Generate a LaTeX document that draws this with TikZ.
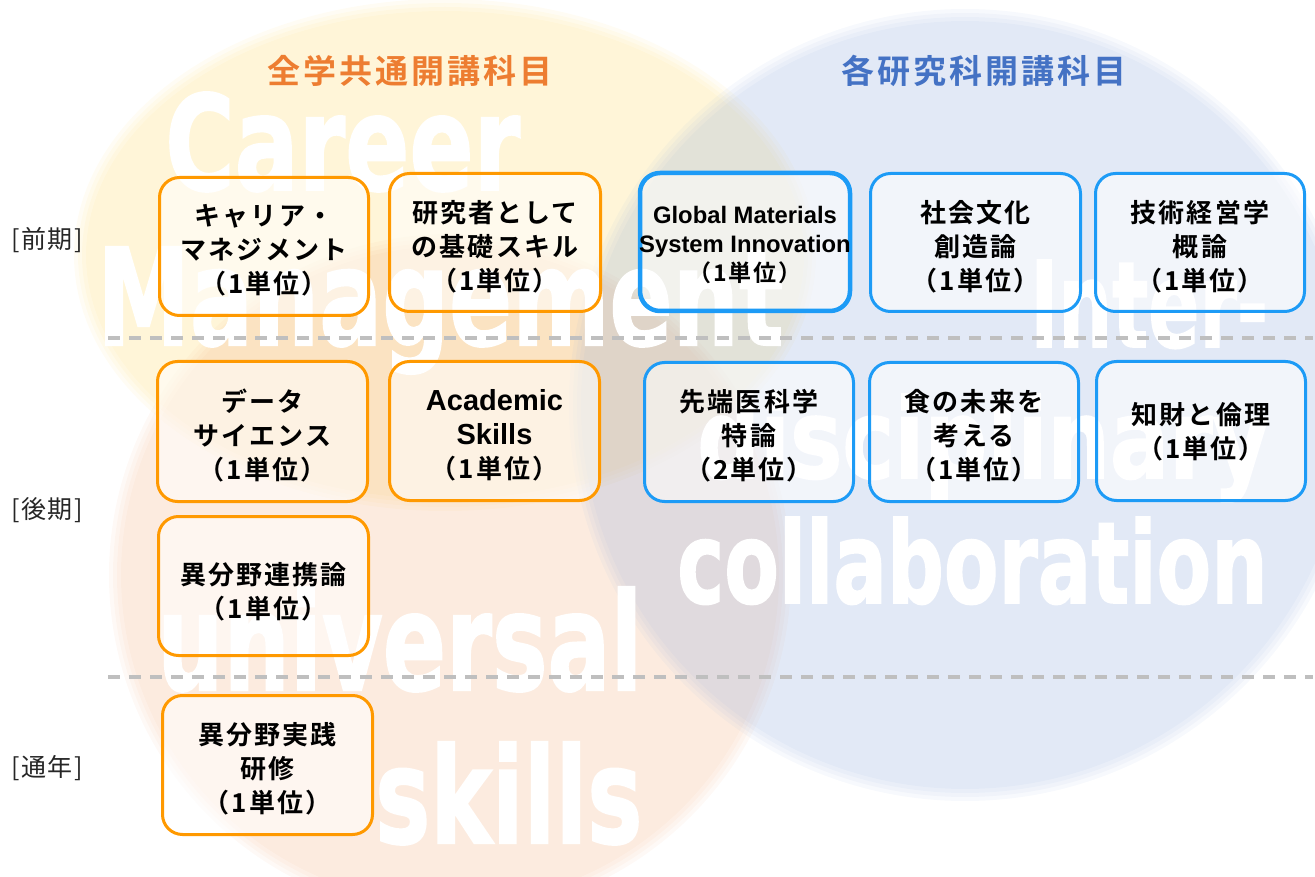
\documentclass[tikz,border=0pt]{standalone}
\usepackage{fontspec}
\usepackage{graphicx}
\newfontfamily\cjkb{Noto Sans CJK JP}[UprightFont=* Bold, LetterSpace=8]
\newfontfamily\cjkt{Noto Sans CJK JP}[UprightFont=* Bold, LetterSpace=9]
\newfontfamily\cjkr{Noto Sans CJK JP}[LetterSpace=6]
\newfontfamily\latb{Liberation Sans}[UprightFont=* Bold]
\newfontfamily\bigf{DejaVu Sans}[UprightFont=* Bold, FakeBold=1.5]
\definecolor{cyel}{HTML}{FFD966}
\definecolor{cora}{HTML}{F4B183}
\definecolor{cblu}{HTML}{8FAADC}
\definecolor{obord}{HTML}{FF9900}
\definecolor{bbord}{HTML}{1D9BF6}
\definecolor{dashc}{HTML}{BFBFBF}
\definecolor{tor}{HTML}{ED7D31}
\definecolor{tbl}{HTML}{4472C4}
\tikzset{
  boxbase/.style={rounded corners=20pt, fill=white, fill opacity=0.55, inner sep=0pt},
  obox/.style={boxbase, draw=obord, line width=3pt},
  bbox/.style={boxbase, draw=bbord, line width=3pt},
  btext/.style={align=center, inner sep=0pt, font=\cjkb\fontsize{26}{34}\selectfont},
  bigw/.style={anchor=base west, inner sep=0pt, text=white},
  sep/.style={draw=dashc, line width=3.5pt, dash pattern=on 12pt off 9pt},
  lab/.style={font=\cjkr\fontsize{25}{25}\selectfont, text=black!85},
}
\begin{document}
\begin{tikzpicture}[x=1pt, y=-1pt]
\useasboundingbox (0,0) rectangle (1315,877);
\begin{scope}
\clip (0,0) rectangle (1315,877);
\foreach \d in {-6,-2,2,6} {
  \fill[cyel, opacity=0.072] (445,255) ellipse [x radius={365+\d}, y radius={250+\d}];
}
\foreach \d in {-6,-2,2,6} {
  \fill[cora, opacity=0.072] (450,575) circle [radius={335+\d}];
}
\foreach \d in {-6,-2,2,6} {
  \fill[cblu, opacity=0.072] (965,405) circle [radius={390+\d}];
}
\end{scope}

% big background words
\node[bigw] (wCareer) at (165,190) {\resizebox{355pt}{98pt}{\bigf Career}};
\node[bigw] (wManag) at (97,345) {\resizebox{686pt}{98pt}{\bigf Management}};
\node[bigw] (wInter) at (1030,347) {\resizebox{238pt}{87pt}{\bigf Inter-}};
\node[bigw] (wDisc) at (697,478) {\resizebox{572pt}{84pt}{\bigf disciplinary}};
\node[bigw] (wColl) at (677,603) {\resizebox{590pt}{86pt}{\bigf collaboration}};
\node[bigw] (wUniv) at (157,690) {\resizebox{485pt}{103pt}{\bigf universal}};
\node[bigw] (wSkil) at (375,843) {\resizebox{267pt}{101pt}{\bigf skills}};

% separators
\coordinate (s1a) at (108,338); \coordinate (s1b) at (1313,338);
\coordinate (s2a) at (108,677); \coordinate (s2b) at (1313,677);
\draw[sep] (s1a) -- (s1b);
\draw[sep] (s2a) -- (s2b);

% titles
\node[text=tor, font=\cjkt\fontsize{33}{33}\selectfont] (title1) at (410,71) {全学共通開講科目};
\node[text=tbl, font=\cjkt\fontsize{33}{33}\selectfont] (title2) at (984,71) {各研究科開講科目};

% period labels
\node[lab] (lab1) at (47,240) {[前期]};
\node[lab] (lab2) at (47,510) {[後期]};
\node[lab] (lab3) at (47,768) {[通年]};

% boxes
\node[obox, minimum width=209pt, minimum height=138pt] (b1) at (264,246.5) {};
\node[obox, minimum width=211pt, minimum height=138pt] (b2) at (495,242.5) {};
\node[bbox, line width=4.5pt, minimum width=210pt, minimum height=138pt] (b3) at (745,242) {};
\node[bbox, minimum width=210pt, minimum height=138pt] (b4) at (975.5,242.5) {};
\node[bbox, minimum width=209pt, minimum height=138pt] (b5) at (1200,242.5) {};
\node[obox, minimum width=210pt, minimum height=140pt] (b6) at (262.5,431.5) {};
\node[obox, minimum width=210pt, minimum height=139pt] (b7) at (494.5,431) {};
\node[bbox, minimum width=209pt, minimum height=139pt] (b8) at (749,432) {};
\node[bbox, minimum width=209pt, minimum height=139pt] (b9) at (974,432) {};
\node[bbox, minimum width=209pt, minimum height=139pt] (b10) at (1201,431) {};
\node[obox, minimum width=210pt, minimum height=139pt] (b11) at (263.5,586) {};
\node[obox, minimum width=210pt, minimum height=139pt] (b12) at (267.5,765) {};

% box texts
\node[btext] (t1) at ([yshift=-4pt]b1.center) {キャリア・\\マネジメント\\（1単位）};
\node[btext] (t2) at ([yshift=-4pt]b2.center) {研究者として\\の基礎スキル\\（1単位）};
\node[btext, font=\latb\fontsize{23.8}{29}\selectfont] (t3) at ([yshift=-3pt]b3.center)
  {Global Materials\\System Innovation\\{\cjkb\fontsize{23}{29}\selectfont （1単位）}};
\node[btext] (t4) at ([yshift=-4pt]b4.center) {社会文化\\創造論\\（1単位）};
\node[btext] (t5) at ([yshift=-4pt]b5.center) {技術経営学\\概論\\（1単位）};
\node[btext] (t6) at ([yshift=-4pt]b6.center) {データ\\サイエンス\\（1単位）};
\node[btext] (t7) at ([yshift=-4pt]b7.center)
  {{\latb\fontsize{29}{34}\selectfont Academic}\\{\latb\fontsize{29}{34}\selectfont Skills}\\（1単位）};
\node[btext] (t8) at ([yshift=-4pt]b8.center) {先端医科学\\特論\\（2単位）};
\node[btext] (t9) at ([yshift=-4pt]b9.center) {食の未来を\\考える\\（1単位）};
\node[btext] (t10) at ([yshift=-1pt]b10.center) {知財と倫理\\（1単位）};
\node[btext] (t11) at ([yshift=-6pt]b11.center) {異分野連携論\\（1単位）};
\node[btext] (t12) at ([yshift=-4pt]b12.center) {異分野実践\\研修\\（1単位）};
\end{tikzpicture}
\end{document}
